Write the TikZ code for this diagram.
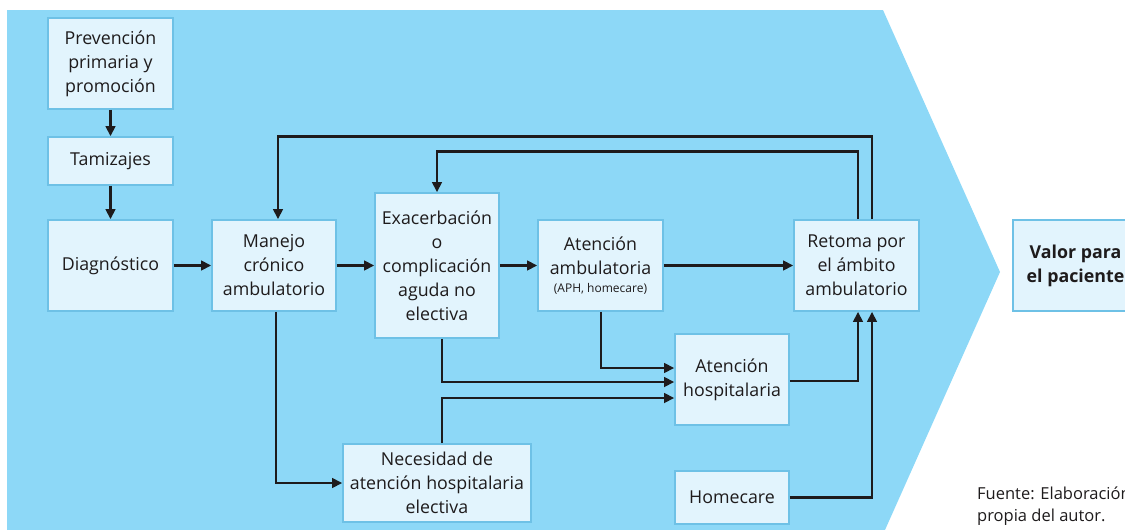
\documentclass[tikz,border=0pt]{standalone}
\usepackage{fontspec}
\setmainfont{Open Sans}
\usetikzlibrary{arrows.meta}
\definecolor{bgblue}{HTML}{8DD8F7}
\definecolor{boxfill}{HTML}{E2F4FD}
\definecolor{boxline}{HTML}{6EC1E6}
\definecolor{ink}{HTML}{1E1B1C}
\begin{document}
\begin{tikzpicture}[x=1pt,y=-1pt,
  box/.style={draw=boxline,fill=boxfill,line width=1.6pt,align=center,inner sep=0pt,
    font=\fontsize{17.8}{24}\selectfont,text=ink},
  arr/.style={draw=ink,line width=2.9pt,-{Triangle[length=10pt,width=9.5pt]}}]
\useasboundingbox (0,0) rectangle (1125,530);
\clip (0,0) rectangle (1125,530);
\fill[bgblue] (7,10) -- (883,10) -- (1000,272) -- (885,530) -- (7,530) -- cycle;

\node[box,minimum width=125,minimum height=91] (prev) at (110.5,63.5) {Prevención\\primaria y\\promoción};
\node[box,minimum width=125,minimum height=48] (tam) at (110.5,161) {Tamizajes};
\node[box,minimum width=125,minimum height=91] (diag) at (110.5,265.5) {Diagnóstico};
\node[box,minimum width=124,minimum height=91] (manejo) at (274,265.5) {Manejo\\crónico\\ambulatorio};
\node[box,minimum width=124,minimum height=145] (exac) at (437,265.5) {Exacerbación\\o\\complicación\\aguda no\\electiva};
\node[box,minimum width=125,minimum height=91] (amb) at (600.5,265.5) {Atención\\ambulatoria\\[-6pt]{\fontsize{12}{18}\selectfont (APH, homecare)}};
\node[box,minimum width=114,minimum height=91] (hosp) at (732,379.5) {Atención\\hospitalaria};
\node[box,minimum width=125,minimum height=91] (retoma) at (856.5,265.5) {Retoma por\\el ámbito\\ambulatorio};
\node[box,minimum width=125,minimum height=91,font=\fontsize{17.8}{24}\selectfont\bfseries] (valor) at (1075.5,265.5) {Valor para\\el paciente};
\node[box,minimum width=114,minimum height=53] (home) at (732,497.5) {Homecare};
\node[box,minimum width=188,minimum height=78] (nec) at (437,483) {Necesidad de\\atención hospitalaria\\electiva};

\node[anchor=north west,align=left,inner sep=0pt,text=ink,font=\fontsize{16.5}{22}\selectfont] (fuente) at (977,487) {Fuente: Elaboración\\propia del autor.};

\draw[arr] (prev.south) -- (tam.north);
\draw[arr] (tam.south) -- (diag.north);
\draw[arr] (diag.east) -- (manejo.west);
\draw[arr] (manejo.east) -- (exac.west);
\draw[arr] (exac.east) -- (amb.west);
\draw[arr] (amb.east) -- (retoma.west);
\draw[arr] ([xshift=15.5pt]retoma.north) -- ++(0,-83) -| ([xshift=4pt]manejo.north);
\draw[arr] ([xshift=1.5pt]retoma.north) -- ++(0,-68) -| (exac.north);
\draw[arr] ([xshift=2pt]manejo.south) |- (nec.west);
\draw[arr] ([xshift=5pt]exac.south) |- ([yshift=-2.5pt]hosp.west);
\draw[arr] ([xshift=0.5pt]amb.south) |- ([yshift=11.5pt]hosp.west);
\draw[arr] ([xshift=5pt]nec.north) |- ([yshift=-18.5pt]hosp.west);
\draw[arr] ([yshift=-1.5pt]hosp.east) -| ([xshift=1.5pt]retoma.south);
\draw[arr] (home.east) -| ([xshift=15.5pt]retoma.south);
\end{tikzpicture}
\end{document}
